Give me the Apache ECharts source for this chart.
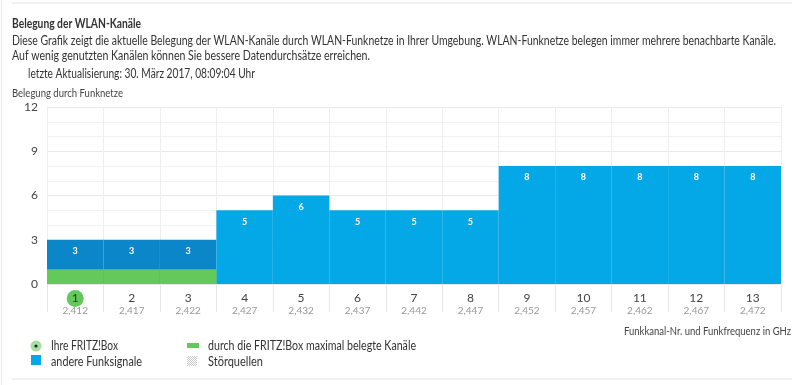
<!DOCTYPE html>
<html><head><meta charset="utf-8">
<script src="https://cdn.jsdelivr.net/npm/echarts@6/dist/echarts.min.js"></script>
<style>html,body{margin:0;padding:0;background:#fff}#c{width:800px;height:385px}</style>
</head><body><div id="c"></div>
<script>
const channels = ['1','2','3','4','5','6','7','8','9','10','11','12','13'];
const frequencies = ['2,412','2,417','2,422','2,427','2,432','2,437','2,442','2,447','2,452','2,457','2,462','2,467','2,472'];
const occupancy = [3,3,3,5,6,5,5,5,8,8,8,8,8];
const fritzBand = [1,1,1,0,0,0,0,0,0,0,0,0,0];
const fritzChannel = '1';

const FONT = 'Lato, "Noto Sans", sans-serif';
const DARK = '#0b86c8', LIGHT = '#05a8e6', GREEN = '#62c95a';

const mc = document.createElement('canvas').getContext('2d');
// text with horizontal fit to a target width (reference font is narrower)
function txt(x, cy, text, font, targetW, fill, align) {
  mc.font = font;
  const w = mc.measureText(text).width;
  const s = targetW ? targetW / w : 1;
  return {type:'text', x: x, y: cy, scaleX: s, scaleY: 1,
    style:{x:0, y:0, text:text, font:font, fill:fill || '#333', verticalAlign:'middle', align: align || 'left'}};
}

const chart = echarts.init(document.getElementById('c'), null, {renderer:'canvas'});

const pc = document.createElement('canvas'); pc.width = 2; pc.height = 2;
const px = pc.getContext('2d'); px.fillStyle = '#fff'; px.fillRect(0,0,2,2);
px.fillStyle = '#c8c8c8'; px.fillRect(0,0,1,1); px.fillRect(1,1,1,1);

chart.setOption({
  animation:false,
  textStyle:{fontFamily:FONT},
  grid:{left:47,right:19,top:107,bottom:101},
  xAxis:{
    type:'category', data:channels, boundaryGap:true,
    axisLine:{show:false},
    axisTick:{show:true, length:28, interval:0, lineStyle:{color:'#e6e6e6'}},
    splitLine:{show:true, interval:0, lineStyle:{color:'#eeeeee'}},
    axisLabel:{
      interval:0, margin:8,
      formatter:(v,i)=> (v===fritzChannel ? '{sel|'+v+'}' : '{num|'+v+'}') + '\n{freq|'+frequencies[i]+'}',
      rich:{
        num:{fontSize:12, color:'#444', lineHeight:13, fontFamily:FONT},
        sel:{fontSize:12, color:'#333', backgroundColor:GREEN, width:17, height:17, borderRadius:9, align:'center', lineHeight:13, fontFamily:FONT},
        freq:{fontSize:10, color:'#999', lineHeight:12, fontFamily:FONT}
      }
    }
  },
  yAxis:{
    type:'value', min:0, max:12, interval:3,
    axisLine:{show:false}, axisTick:{show:false},
    axisLabel:{color:'#444', fontSize:12, margin:9, fontFamily:FONT},
    splitLine:{lineStyle:{color:'#e8e8e8'}},
    minorTick:{show:false, splitNumber:3},
    minorSplitLine:{show:true, lineStyle:{color:'#f1f1f1'}}
  },
  series:[
    {type:'bar', name:'andere Funksignale', barCategoryGap:0, barGap:'-100%',
     data: occupancy.map((v,i)=>({value:v, itemStyle:{color: fritzBand[i]>0 ? DARK : LIGHT}})),
     label:{show:true, position:'insideTop', distance:7, color:'#fff', fontSize:9, fontWeight:'bold', fontFamily:FONT},
     z:2},
    {type:'bar', name:'FRITZ!Box', barCategoryGap:0, barGap:'-100%',
     data: fritzBand.map(v=>v>0?v:null),
     itemStyle:{color:GREEN}, z:3}
  ],
  graphic:[
    {type:'line', shape:{x1:12,y1:3,x2:792,y2:3}, style:{stroke:'#e3e3e3', lineWidth:1}},
    {type:'line', shape:{x1:12,y1:379,x2:792,y2:379}, style:{stroke:'#e3e3e3', lineWidth:1}},
    {type:'line', shape:{x1:1.5,y1:0,x2:1.5,y2:385}, style:{stroke:'#e8e8e8', lineWidth:1}},
    txt(12, 23.5, 'Belegung der WLAN-Kanäle', 'bold 13px '+FONT, 129, '#333'),
    txt(12, 41, 'Diese Grafik zeigt die aktuelle Belegung der WLAN-Kanäle durch WLAN-Funknetze in Ihrer Umgebung. WLAN-Funknetze belegen immer mehrere benachbarte Kanäle.', '12.5px '+FONT, 764, '#333'),
    txt(12, 56, 'Auf wenig genutzten Kanälen können Sie bessere Datendurchsätze erreichen.', '12.5px '+FONT, 358, '#333'),
    txt(28, 74, 'letzte Aktualisierung: 30. März 2017, 08:09:04 Uhr', '12.5px '+FONT, 227, '#333'),
    txt(12, 93, 'Belegung durch Funknetze', '11px '+FONT, 111, '#444'),
    txt(791, 331, 'Funkkanal-Nr. und Funkfrequenz in GHz', '11px '+FONT, 167, '#444', 'right'),
    {type:'circle', shape:{cx:36,cy:346,r:5.5}, style:{fill:'#a6dea2'}},
    {type:'circle', shape:{cx:36,cy:346,r:1.6}, style:{fill:'#222'}},
    txt(51, 346, 'Ihre FRITZ!Box', '12.5px '+FONT, 67, '#333'),
    {type:'rect', shape:{x:31,y:355,width:10,height:10}, style:{fill:LIGHT}},
    txt(51, 362, 'andere Funksignale', '12.5px '+FONT, 91, '#333'),
    {type:'rect', shape:{x:187,y:343,width:12,height:5}, style:{fill:GREEN}},
    txt(208, 346, 'durch die FRITZ!Box maximal belegte Kanäle', '12.5px '+FONT, 208, '#333'),
    {type:'rect', shape:{x:187,y:356,width:10,height:10}, style:{fill:{image:pc, repeat:'repeat'}}},
    txt(208, 362, 'Störquellen', '12.5px '+FONT, 55, '#333')
  ]
});
</script></body></html>
